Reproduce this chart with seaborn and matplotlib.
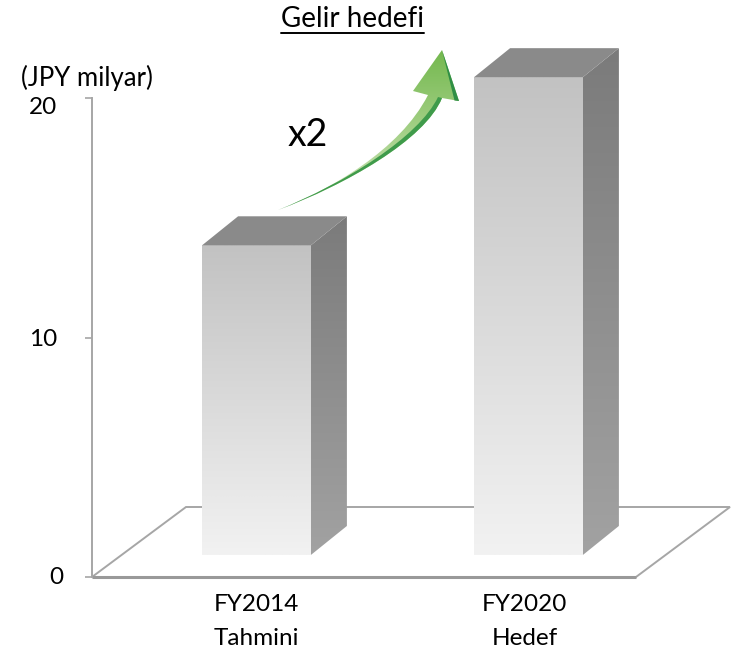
import numpy as np
import pandas as pd
import matplotlib
matplotlib.use("Agg")
import matplotlib.pyplot as plt
from matplotlib.patches import Polygon, PathPatch
from matplotlib.path import Path
from matplotlib.transforms import ScaledTranslation
import seaborn as sns

categories = ["FY2014\nTahmini", "FY2020\nHedef"]
tops = [13.85, 20.87]
floor_level = 0.92
yticks = [0, 10, 20]
title = "Gelir hedefi"
unit = "(JPY milyar)"
multiplier = "x2"

W, H = 733, 651
sns.set_theme(style="white")
plt.rcParams["font.family"] = ["Lato", "DejaVu Sans"]
fig = plt.figure(figsize=(W / 100, H / 100), dpi=100, facecolor="white")

bg = fig.add_axes([0, 0, 1, 1], zorder=0)
bg.set_xlim(0, W)
bg.set_ylim(H, 0)
bg.axis("off")

L, R, Y0, Y20 = 92, W, 577, 98
ax = fig.add_axes([L / W, (H - Y0) / H, (R - L) / W, (Y0 - Y20) / H], zorder=1)
ax.patch.set_alpha(0)

df = pd.DataFrame({"cat": categories, "height": np.array(tops) - floor_level})
sns.barplot(data=df, x="cat", y="height", bottom=floor_level, width=0.4, ax=ax,
            color="#d0d0d0", linewidth=0, clip_on=False)

xlim = ((L - 256.5) / 272, (R - 256.5) / 272)
ylim = (0, 20)
dx, dy = 36 / 272, 29 / 23.95


def gradient(a, extent, c0, c1, clip, zorder=2):
    c0, c1 = np.array(matplotlib.colors.to_rgb(c0)), np.array(matplotlib.colors.to_rgb(c1))
    t = np.linspace(0, 1, 256)[:, None, None]
    im = a.imshow(c0 + (c1 - c0) * t, extent=extent, origin="lower", aspect="auto",
                  zorder=zorder, interpolation="bilinear")
    im.set_clip_box(fig.bbox)
    im.set_clip_path(clip)
    return im


for bar in list(ax.patches):
    x0, x1 = bar.get_x(), bar.get_x() + bar.get_width()
    y0, y1 = bar.get_y(), bar.get_y() + bar.get_height()
    bar.set_facecolor("none")
    front = Polygon([(x0, y0), (x1, y0), (x1, y1), (x0, y1)], closed=True, fc="none", ec="none",
                    transform=ax.transData)
    ax.add_patch(front)
    gradient(ax, (x0, x1, y0, y1), "#f2f2f2", "#c2c2c2", front)
    side = Polygon([(x1, y0), (x1 + dx, y0 + dy), (x1 + dx, y1 + dy), (x1, y1)], closed=True,
                   fc="none", ec="none", transform=ax.transData)
    ax.add_patch(side)
    gradient(ax, (x1, x1 + dx, y0, y1 + dy), "#a2a2a2", "#7b7b7b", side)
    top = Polygon([(x0, y1), (x1, y1), (x1 + dx, y1 + dy), (x0 + dx, y1 + dy)], closed=True,
                  fc="#8a8a8a", ec="none", zorder=2, transform=ax.transData, clip_on=False)
    ax.add_patch(top)

ax.set_xlim(*xlim)
ax.set_ylim(*ylim)
for s in ["top", "right", "bottom"]:
    ax.spines[s].set_visible(False)
ax.spines["left"].set_color("#a6a6a6")
ax.spines["left"].set_linewidth(1.4)
ax.set_xlabel("")
ax.set_ylabel("")
ax.set_yticks(yticks)
ax.tick_params(axis="y", length=5, width=1.2, color="#a6a6a6", labelsize=17.5, pad=20,
               labelcolor="black", left=True)
ax.tick_params(axis="x", length=0, labelsize=17.5, pad=12, labelcolor="black")
for lab in ax.get_xticklabels():
    lab.set_linespacing(1.8)


def nudge(label, px, py):
    label.set_transform(label.get_transform() + ScaledTranslation(px / 100, py / 100, fig.dpi_scale_trans))


ylabels = ax.get_yticklabels()
nudge(ylabels[0], 6, 2)
nudge(ylabels[2], 0, -8)
nudge(ax.get_xticklabels()[1], -4, 0)

# Floor
floor = Polygon([(92, 577), (186, 507), (730, 507), (636, 577)], closed=True, fc="white",
                ec="#a6a6a6", lw=1.4)
bg.add_patch(floor)
bg.plot([92, 636], [577, 577], color="#999999", lw=2.2, solid_capstyle="butt")

# Growth arrow
verts = [(278, 210), (330, 190), (400, 150), (428, 95), (413, 91), (442, 50), (459, 101), (442, 98),
         (425, 140), (345, 185), (278, 210)]
codes = [Path.MOVETO, Path.CURVE4, Path.CURVE4, Path.CURVE4, Path.LINETO, Path.LINETO, Path.LINETO,
         Path.LINETO, Path.CURVE4, Path.CURVE4, Path.CURVE4]
arrow = PathPatch(Path(verts, codes), fc="none", ec="none", transform=bg.transData)
bg.add_patch(arrow)
gradient(bg, (278, 459, 50, 210), "#74b84e", "#d3e8bf", arrow, zorder=3)
sliver = [(278, 210), (345, 185), (425, 140), (442, 98), (438, 97), (419, 137), (345, 183), (278, 210)]
s_codes = [Path.MOVETO] + [Path.CURVE4] * 3 + [Path.LINETO] + [Path.CURVE4] * 3
bg.add_patch(PathPatch(Path(sliver, s_codes), fc="#3f9b4b", ec="none", zorder=4))
head_edge = [(442, 50), (459, 101), (454.5, 100.5)]
bg.add_patch(Polygon(head_edge, closed=True, fc="#2f8f45", ec="none", zorder=4))

# Texts
bg.text(352.5, 19, title, ha="center", va="center", fontsize=20, color="black")
bg.plot([281, 424], [32.5, 32.5], color="black", lw=1.4)
bg.text(87, 78, unit, ha="center", va="center", fontsize=18.5, color="black")
bg.text(308, 135, multiplier, ha="center", va="center", fontsize=27, color="black")

fig.savefig("out.png", dpi=100)
